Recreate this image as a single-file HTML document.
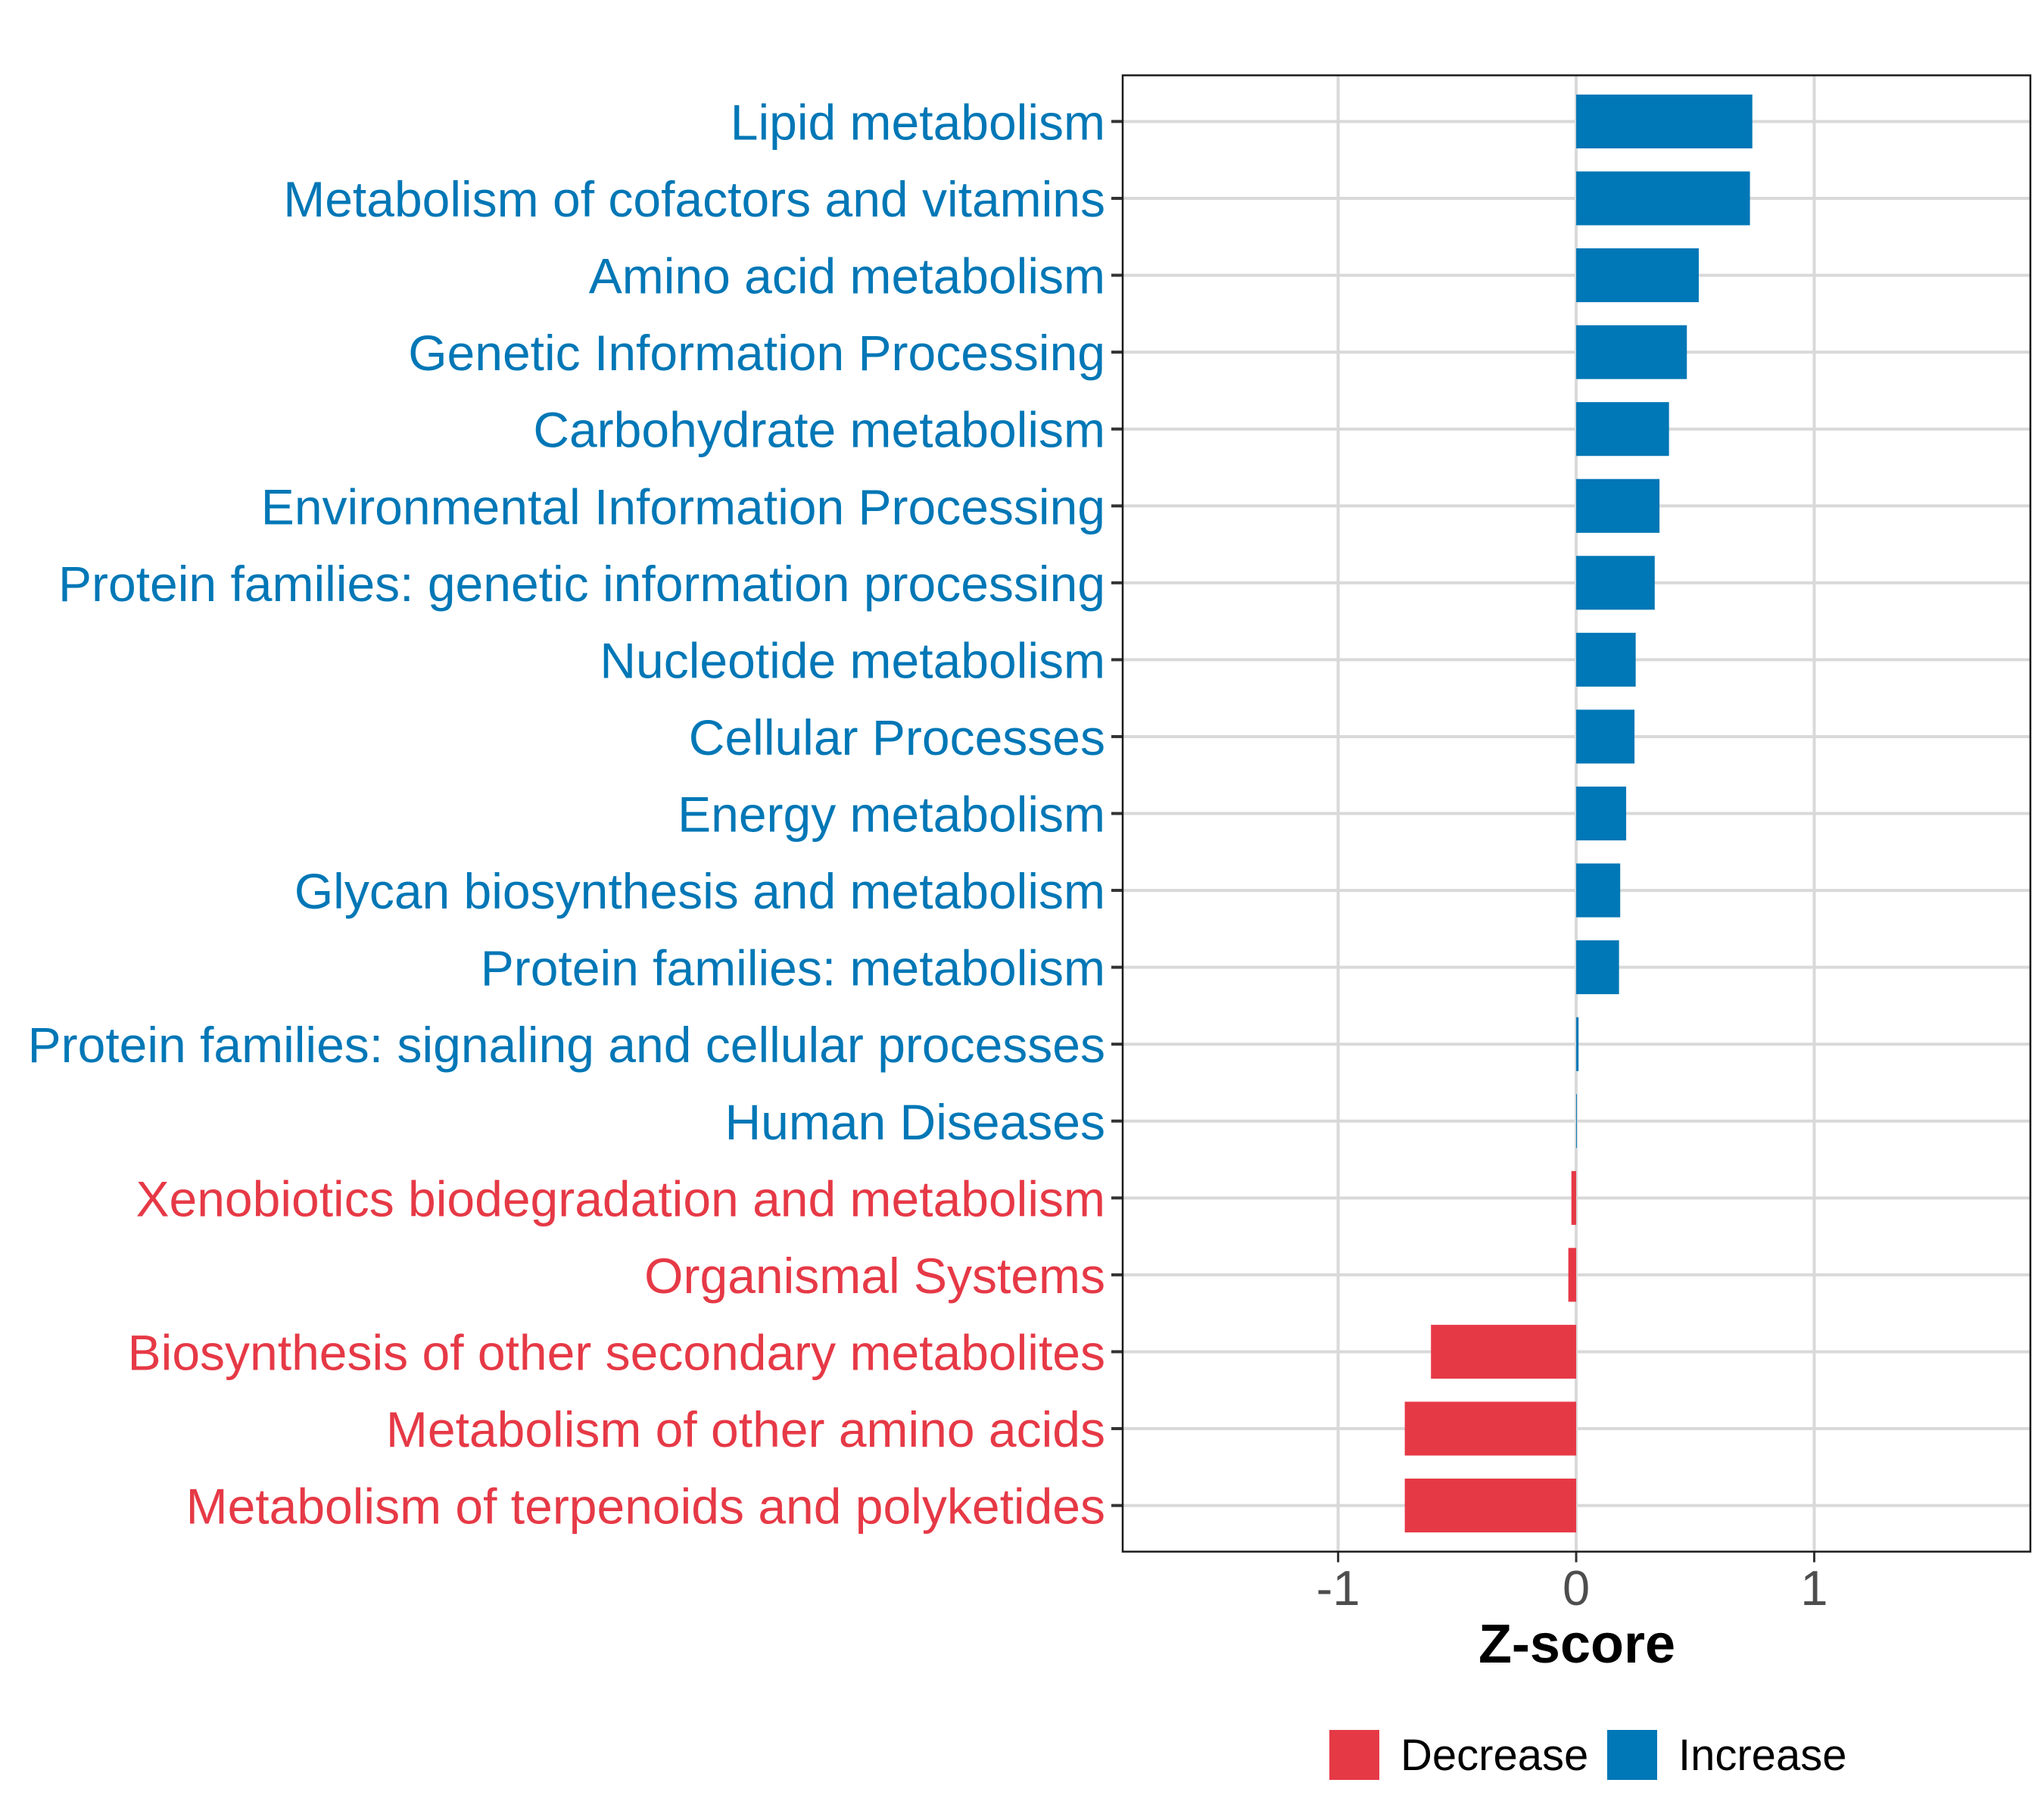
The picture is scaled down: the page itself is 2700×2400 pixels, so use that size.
<!DOCTYPE html>
<html><head><meta charset="utf-8"><style>
html,body{margin:0;padding:0;background:#fff}
svg{display:block}
text{font-family:"Liberation Sans",Arial,sans-serif}
</style></head><body>
<svg id="chart" width="2700" height="2400" viewBox="0 0 2700 2400" xmlns="http://www.w3.org/2000/svg">
<rect width="2700" height="2400" fill="#fff"/>
<g id="grid"></g>
<g id="bars"></g>
<g id="ylabels"></g>
<g id="xticks"></g>
<rect x="1483" y="99.5" width="1199" height="1950" fill="none" stroke="#1a1a1a" stroke-width="2.5"/>
<text x="2083" y="2196" font-size="72" font-weight="bold" text-anchor="middle" fill="#000">Z-score</text>
<g>
<rect x="1756" y="2285" width="66" height="66" fill="#E63946"/>
<text x="1850" y="2338" font-size="58" fill="#000">Decrease</text>
<rect x="2123" y="2285" width="66" height="66" fill="#0077B6"/>
<text x="2217" y="2338" font-size="58" fill="#000">Increase</text>
</g>
</svg>
<script>
const categories = ["Lipid metabolism","Metabolism of cofactors and vitamins","Amino acid metabolism","Genetic Information Processing","Carbohydrate metabolism","Environmental Information Processing","Protein families: genetic information processing","Nucleotide metabolism","Cellular Processes","Energy metabolism","Glycan biosynthesis and metabolism","Protein families: metabolism","Protein families: signaling and cellular processes","Human Diseases","Xenobiotics biodegradation and metabolism","Organismal Systems","Biosynthesis of other secondary metabolites","Metabolism of other amino acids","Metabolism of terpenoids and polyketides"];
const zscores = [0.74,0.73,0.515,0.465,0.39,0.35,0.33,0.25,0.245,0.21,0.185,0.18,0.01,0.003,-0.02,-0.033,-0.61,-0.72,-0.72];
const xTicks = [-1,0,1];
const xTickLabels = ["-1","0","1"];
const legendLabels = ["Decrease","Increase"];

const NS = "http://www.w3.org/2000/svg";
const panel = {left:1483, right:2682, top:99.5, bottom:2049.5};
const xMin = -1.905, xMax = 1.908;
function xScale(v){ return panel.left + (v - xMin) / (xMax - xMin) * (panel.right - panel.left); }
const n = categories.length;
const band = (panel.bottom - panel.top) / (n - 1 + 1.2);
function yScale(i){ return panel.top + band * 0.6 + i * band; }
const BLUE = "#0077B6", RED = "#E63946";
function mk(tag, attrs, parent){ const e = document.createElementNS(NS, tag); for (const k in attrs) e.setAttribute(k, attrs[k]); parent.appendChild(e); return e; }

const grid = document.getElementById('grid');
const bars = document.getElementById('bars');
const yl = document.getElementById('ylabels');
const xt = document.getElementById('xticks');

xTicks.forEach((t, i) => {
  const x = xScale(t);
  const g = mk('line', {x1:x, x2:x, y1:panel.top, y2:panel.bottom, stroke:'#d9d9d9', 'stroke-width':4}, grid);
  
  
  const tk = mk('line', {x1:x, x2:x, y1:panel.bottom, y2:panel.bottom + 14, stroke:'#333', 'stroke-width':3}, xt);
  
  
  const lb = mk('text', {x:x, y:2120, 'font-size':65, 'text-anchor':'middle', fill:'#4d4d4d'}, xt);
  lb.textContent = xTickLabels[i];
  
  
});

categories.forEach((c, i) => {
  const y = yScale(i);
  const gl = mk('line', {x1:panel.left, x2:panel.right, y1:y, y2:y, stroke:'#d9d9d9', 'stroke-width':4}, grid);
  
  
  const v = zscores[i];
  const col = v >= 0 ? BLUE : RED;
  const x0 = xScale(0), x1 = xScale(v);
  const h = band * 0.7;
  const r = mk('rect', {x:Math.min(x0, x1), y:y - h/2, width:Math.max(Math.abs(x1 - x0), 0.8), height:h, fill:col}, bars);
  
  
  const tk = mk('line', {x1:panel.left - 15, x2:panel.left, y1:y, y2:y, stroke:'#333', 'stroke-width':4}, yl);
  
  
  const t = mk('text', {x:1460, y:y + 24, 'font-size':66, 'text-anchor':'end', fill:col}, yl);
  t.textContent = c;
  
  
});
</script>
</body></html>
